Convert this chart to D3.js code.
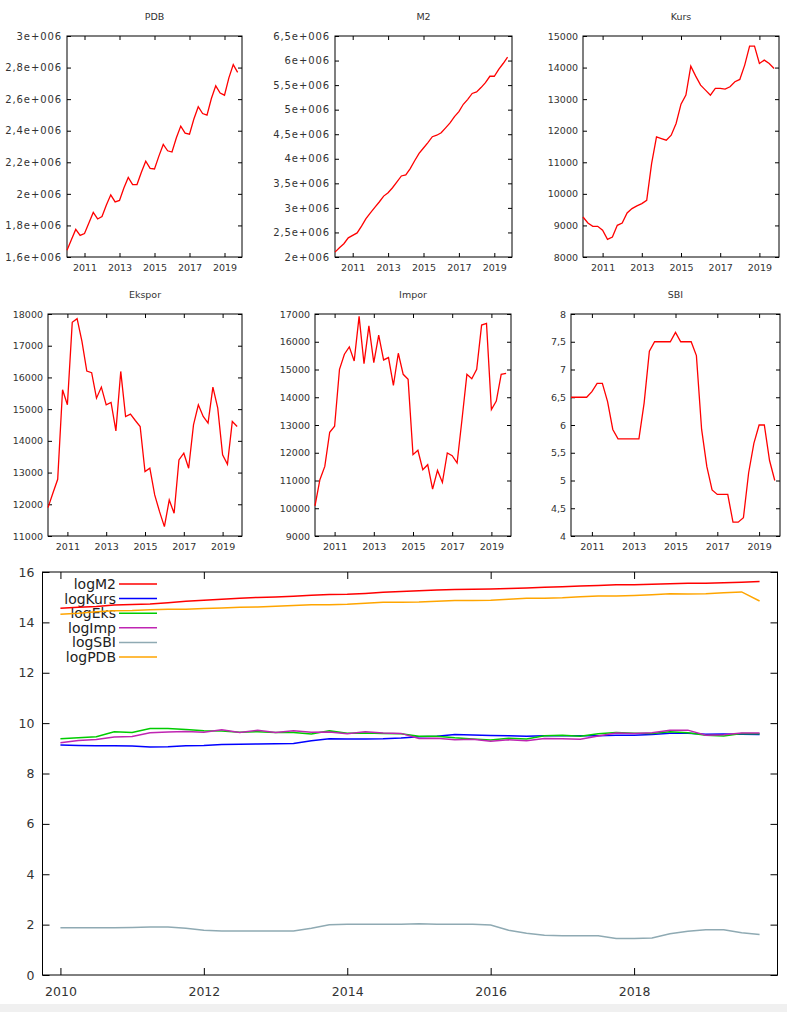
<!DOCTYPE html>
<html>
<head>
<meta charset="utf-8">
<script src="https://cdn.jsdelivr.net/npm/d3@7"></script>
<style>
  body { margin: 0; background: #fff; }
  svg { display: block; }
</style>
</head>
<body>
<svg id="chart" width="787" height="1012"></svg>
<script>
// quarterly observations, gretl style "year:quarter"
var quarters = [
  "2010:1","2010:2","2010:3","2010:4","2011:1","2011:2","2011:3","2011:4",
  "2012:1","2012:2","2012:3","2012:4","2013:1","2013:2","2013:3","2013:4",
  "2014:1","2014:2","2014:3","2014:4","2015:1","2015:2","2015:3","2015:4",
  "2016:1","2016:2","2016:3","2016:4","2017:1","2017:2","2017:3","2017:4",
  "2018:1","2018:2","2018:3","2018:4","2019:1","2019:2","2019:3","2019:4"
];

var pdb = [1642000,1709000,1775000,1737000,1749000,1816000,1882000,1841000,
  1856000,1929000,1994000,1949000,1958000,2037000,2104000,2058000,
  2059000,2137000,2207000,2162000,2158000,2239000,2313000,2273000,
  2265000,2355000,2429000,2385000,2378000,2474000,2552000,2509000,
  2499000,2604000,2684000,2639000,2625000,2735000,2819000,2770000];

var m2 = [2100000,2190000,2270000,2390000,2440000,2490000,2630000,2780000,
  2900000,3010000,3120000,3240000,3310000,3410000,3530000,3650000,
  3670000,3800000,3960000,4110000,4220000,4330000,4450000,4480000,
  4530000,4630000,4730000,4860000,4960000,5110000,5210000,5330000,
  5360000,5450000,5550000,5680000,5680000,5820000,5940000,6070000];

var kurs = [9268,9078,8973,8973,8846,8560,8634,9004,
  9078,9395,9533,9617,9691,9797,10960,11806,
  11753,11700,11858,12228,12841,13127,14046,13729,
  13444,13285,13127,13338,13338,13317,13391,13550,
  13624,14078,14680,14680,14131,14237,14131,13972];

var ekspor = [11895,12347,12789,15610,15137,17737,17853,17137,
  16200,16150,15347,15695,15137,15211,14316,16189,
  14768,14842,14642,14453,13032,13137,12295,11768,
  11295,12137,11716,13400,13611,13137,14505,15137,
  14768,14558,15695,15032,13558,13263,14611,14453];

var impor = [10086,11027,11509,12739,12957,15007,15550,15815,
  15309,16913,15212,16575,15248,16237,15345,15430,
  14428,15586,14826,14645,11931,12088,11388,11569,
  10689,11364,10930,11992,11895,11630,13198,14826,
  14669,15007,16600,16660,13560,13861,14826,14862];

var sbi = [6.5,6.5,6.5,6.5,6.6,6.75,6.75,6.42,
  5.92,5.75,5.75,5.75,5.75,5.75,6.4,7.33,
  7.5,7.5,7.5,7.5,7.67,7.5,7.5,7.5,
  7.25,5.92,5.25,4.83,4.75,4.75,4.75,4.25,
  4.25,4.33,5.14,5.67,6.0,6.0,5.36,5.0];

// log series of the bottom panel
var logM2 = [14.557,14.599,14.635,14.687,14.707,14.728,14.782,14.838,
  14.880,14.917,14.953,14.991,15.012,15.042,15.077,15.110,
  15.116,15.150,15.192,15.229,15.255,15.281,15.308,15.315,
  15.326,15.348,15.369,15.397,15.417,15.447,15.466,15.489,
  15.494,15.511,15.529,15.552,15.552,15.577,15.597,15.619];

var logKurs = [9.134,9.114,9.102,9.102,9.088,9.055,9.064,9.105,
  9.114,9.148,9.162,9.171,9.179,9.190,9.302,9.376,
  9.372,9.367,9.381,9.411,9.460,9.482,9.550,9.527,
  9.506,9.494,9.482,9.498,9.498,9.497,9.502,9.514,
  9.520,9.552,9.594,9.594,9.556,9.564,9.556,9.545];

var logEks = [9.384,9.421,9.456,9.656,9.625,9.783,9.790,9.749,
  9.693,9.690,9.639,9.661,9.625,9.630,9.569,9.692,
  9.600,9.605,9.592,9.579,9.475,9.483,9.417,9.373,
  9.332,9.404,9.369,9.503,9.519,9.483,9.582,9.625,
  9.600,9.586,9.661,9.618,9.515,9.493,9.589,9.579];

var logImp = [9.219,9.308,9.351,9.452,9.469,9.616,9.652,9.669,
  9.636,9.736,9.630,9.716,9.632,9.695,9.638,9.644,
  9.577,9.654,9.604,9.592,9.387,9.400,9.340,9.356,
  9.277,9.338,9.299,9.392,9.384,9.361,9.488,9.604,
  9.593,9.616,9.717,9.721,9.515,9.537,9.604,9.607];

var logSBI = [1.872,1.872,1.872,1.872,1.887,1.910,1.910,1.859,
  1.778,1.749,1.749,1.749,1.749,1.749,1.856,1.992,
  2.015,2.015,2.015,2.015,2.037,2.015,2.015,2.015,
  1.981,1.778,1.658,1.575,1.558,1.558,1.558,1.447,
  1.447,1.466,1.637,1.735,1.792,1.792,1.679,1.609];

var logPDB = [14.32,14.36,14.42,14.46,14.47,14.50,14.52,14.52,
  14.55,14.57,14.60,14.61,14.64,14.67,14.70,14.70,
  14.72,14.76,14.80,14.80,14.81,14.84,14.87,14.87,
  14.88,14.92,14.96,14.96,14.98,15.02,15.05,15.05,
  15.07,15.10,15.14,15.13,15.14,15.18,15.21,14.85];

// tick values
var smallYears = [2011, 2013, 2015, 2017, 2019];
var bigYears = [2010, 2012, 2014, 2016, 2018];
var pdbTicks = [1600000,1800000,2000000,2200000,2400000,2600000,2800000,3000000];
var m2Ticks = [2000000,2500000,3000000,3500000,4000000,4500000,5000000,5500000,6000000,6500000];
var kursTicks = [8000,9000,10000,11000,12000,13000,14000,15000];
var eksTicks = [11000,12000,13000,14000,15000,16000,17000,18000];
var impTicks = [9000,10000,11000,12000,13000,14000,15000,16000,17000];
var sbiTicks = [4,4.5,5,5.5,6,6.5,7,7.5,8];
var logTicks = [0,2,4,6,8,10,12,14,16];

var legendNames = ["logM2","logKurs","logEks","logImp","logSBI","logPDB"];
var legendColors = ["#ff0000","#0000ff","#00cc00","#bf25b2","#8faab3","#ffa500"];

var font = "DejaVu Sans, Verdana, sans-serif";

var time = quarters.map(function(q) {
  var p = q.split(":");
  return +p[0] + (+p[1] - 1) / 4;
});

// gnuplot %g style with decimal comma
function gnuFormat(v) {
  if (v >= 1e6) return String(+(v / 1e6).toFixed(1)).replace(".", ",") + "e+006";
  return String(v).replace(".", ",");
}

var svg = d3.select("#chart");

function styleAxis(sel, size) {
  sel.select(".domain").remove();
  sel.selectAll("line").attr("stroke", "#000");
  sel.selectAll("text").attr("fill", "#333").style("font-family", font).style("font-size", size + "px");
}

function framedAxes(g, x, y, box, xt, yt, fmtY, tick, pad, fontSize) {
  g.append("g").attr("transform", "translate(0," + box.bottom + ")")
    .call(d3.axisBottom(x).tickValues(xt).tickSize(-tick).tickPadding(pad.x).tickFormat(d3.format("d")))
    .call(styleAxis, fontSize);
  g.append("g").attr("transform", "translate(0," + box.top + ")")
    .call(d3.axisTop(x).tickValues(xt).tickSize(-tick).tickFormat(""))
    .call(styleAxis, fontSize);
  var left = g.append("g").attr("transform", "translate(" + box.left + ",0)")
    .call(d3.axisLeft(y).tickValues(yt).tickSize(-tick).tickPadding(pad.y).tickFormat(fmtY))
    .call(styleAxis, fontSize);
  // the exponent labels come out wider in the original
  left.selectAll("text").filter(function() { return this.textContent.indexOf("e+") > 0; })
    .style("font-size", "10px").style("letter-spacing", "0.9px");
  g.append("g").attr("transform", "translate(" + box.right + ",0)")
    .call(d3.axisRight(y).tickValues(yt).tickSize(-tick).tickFormat(""))
    .call(styleAxis, fontSize);
  g.append("rect")
    .attr("x", box.left).attr("y", box.top)
    .attr("width", box.right - box.left).attr("height", box.bottom - box.top)
    .attr("fill", "none").attr("stroke", "#000").attr("stroke-width", 1);
}

function smallPanel(title, values, yDomain, yTicks, box) {
  var g = svg.append("g");
  var x = d3.scaleLinear().domain([2010, 2020]).range([box.left, box.right]);
  var y = d3.scaleLinear().domain(yDomain).range([box.bottom, box.top]);

  framedAxes(g, x, y, box, smallYears, yTicks, gnuFormat, 4, { x: 7, y: 5 }, 9.5);

  g.append("path")
    .datum(values)
    .attr("fill", "none")
    .attr("stroke", "#ff0000")
    .attr("stroke-width", 1.3)
    .attr("d", d3.line().x(function(d, i) { return x(time[i]); }).y(function(d) { return y(d); }));

  g.append("text")
    .attr("x", (box.left + box.right) / 2)
    .attr("y", box.top - 16)
    .attr("text-anchor", "middle")
    .style("font-family", font)
    .style("font-size", "9.5px")
    .attr("fill", "#333")
    .text(title);
}

smallPanel("PDB", pdb, [1600000, 3000000], pdbTicks, { left: 67, right: 242, top: 36, bottom: 257 });
smallPanel("M2", m2, [2000000, 6500000], m2Ticks, { left: 335, right: 512, top: 36, bottom: 257 });
smallPanel("Kurs", kurs, [8000, 15000], kursTicks, { left: 583, right: 779, top: 36, bottom: 257 });
smallPanel("Ekspor", ekspor, [11000, 18000], eksTicks, { left: 48, right: 242, top: 314, bottom: 536 });
smallPanel("Impor", impor, [9000, 17000], impTicks, { left: 315, right: 511, top: 314, bottom: 536 });
smallPanel("SBI", sbi, [4, 8], sbiTicks, { left: 571, right: 780, top: 314, bottom: 536 });

// bottom panel with all log series
var big = { left: 42.5, right: 777.5, top: 572, bottom: 975 };
var gb = svg.append("g");
var xb = d3.scaleLinear().domain([2009.75, 2020]).range([big.left, big.right]);
var yb = d3.scaleLinear().domain([0, 16]).range([big.bottom, big.top]);

framedAxes(gb, xb, yb, big, bigYears, logTicks, d3.format("d"), 7, { x: 12, y: 8 }, 12.5);

var logSeries = [logM2, logKurs, logEks, logImp, logSBI, logPDB];
var lineB = d3.line().x(function(d, i) { return xb(time[i]); }).y(function(d) { return yb(d); });

// key
var key = gb.append("g");
legendNames.forEach(function(name, i) {
  var ky = 584 + i * 14.6;
  key.append("text")
    .attr("x", 116).attr("y", ky).attr("dy", "0.35em")
    .attr("text-anchor", "end")
    .style("font-family", font).style("font-size", "14px")
    .attr("fill", "#222")
    .text(name);
  key.append("line")
    .attr("x1", 119).attr("x2", 157).attr("y1", ky).attr("y2", ky)
    .attr("stroke", legendColors[i]).attr("stroke-width", 1.5);
});

logSeries.forEach(function(s, i) {
  gb.append("path")
    .datum(s)
    .attr("fill", "none")
    .attr("stroke", legendColors[i])
    .attr("stroke-width", 1.5)
    .attr("d", lineB);
});

svg.append("rect")
  .attr("x", 0).attr("y", 1004).attr("width", 787).attr("height", 8)
  .attr("fill", "#f0f0f0");
</script>
</body>
</html>
